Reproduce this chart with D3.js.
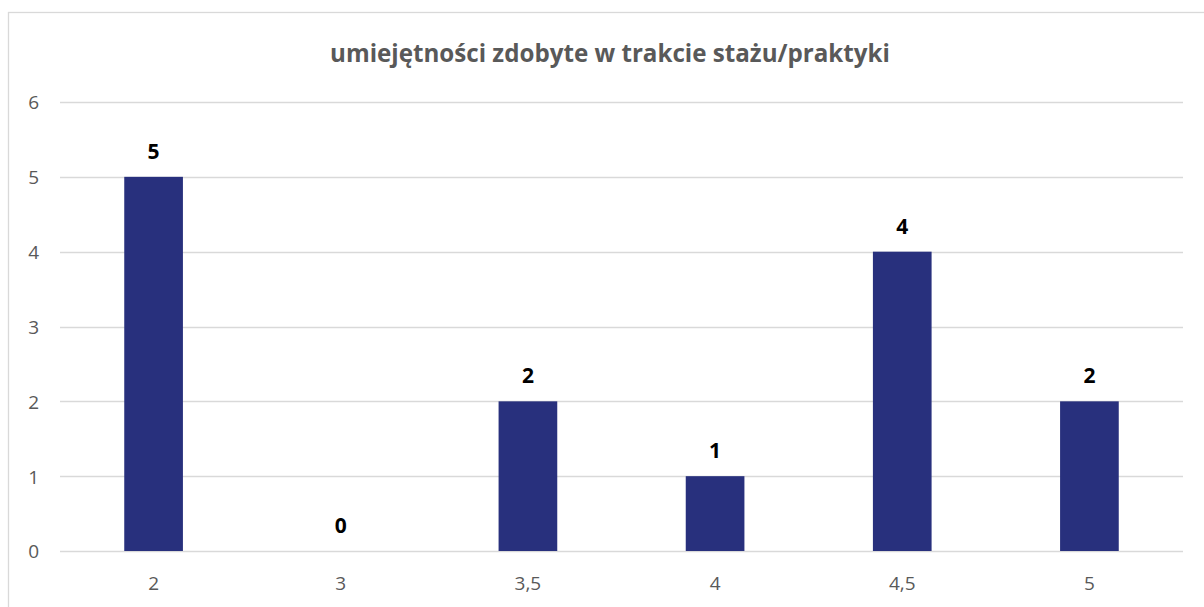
<!DOCTYPE html>
<html>
<head>
<meta charset="utf-8">
<script src="https://cdn.jsdelivr.net/npm/d3@7"></script>
<style>
  html, body { margin: 0; padding: 0; background: #ffffff; }
  svg { display: block; }
</style>
</head>
<body>
<svg id="chart" width="1204" height="607"></svg>
<script>
const title = "umiejętności zdobyte w trakcie stażu/praktyki";
const categories = ["2", "3", "3,5", "4", "4,5", "5"];
const values = [5, 0, 2, 1, 4, 2];
const yTicks = [0, 1, 2, 3, 4, 5, 6];

const W = 1204, H = 607;
const margin = { left: 60, right: 21, top: 102, bottom: 56 };
const svg = d3.select("#chart");

// chart border (Excel chart area)
svg.append("rect")
  .attr("x", 8.5).attr("y", 12.5)
  .attr("width", W + 10).attr("height", H + 10)
  .attr("fill", "#ffffff")
  .attr("stroke", "#d9d9d9").attr("stroke-width", 1.3);

const x = d3.scaleBand()
  .domain(categories)
  .range([margin.left, W - margin.right])
  .paddingInner(0.6865)
  .paddingOuter(0.6865 / 2);

const y = d3.scaleLinear()
  .domain([0, 6])
  .range([H - margin.bottom, margin.top]);

// gridlines
svg.append("g")
  .selectAll("line")
  .data(yTicks)
  .join("line")
  .attr("x1", margin.left).attr("x2", W - margin.right)
  .attr("y1", d => Math.round(y(d)) + 0.5)
  .attr("y2", d => Math.round(y(d)) + 0.5)
  .attr("stroke", "#d9d9d9").attr("stroke-width", 1.3);

// y axis labels
const yAxis = d3.axisLeft(y).tickValues(yTicks).tickFormat(d3.format("d")).tickSize(0).tickPadding(0);
const gy = svg.append("g").attr("transform", `translate(39,0)`).call(yAxis);
gy.select(".domain").remove();
gy.selectAll("text")
  .attr("font-family", "'Open Sans', sans-serif")
  .attr("font-size", 19)
  .attr("fill", "#595959")
  .attr("dy", "0.36em");

// x axis labels
const xAxis = d3.axisBottom(x).tickSize(0).tickPadding(0);
const gx = svg.append("g").attr("transform", `translate(0,${H - margin.bottom})`).call(xAxis);
gx.select(".domain").remove();
gx.selectAll("text")
  .attr("font-family", "'Open Sans', sans-serif")
  .attr("font-size", 19)
  .attr("fill", "#595959")
  .attr("y", 39)
  .attr("dy", 0);

// bars
svg.append("g")
  .selectAll("rect")
  .data(values)
  .join("rect")
  .attr("x", (d, i) => x(categories[i]))
  .attr("width", x.bandwidth())
  .attr("y", d => y(d))
  .attr("height", d => y(0) - y(d))
  .attr("fill", "#28307d");

// data labels
svg.append("g")
  .selectAll("text")
  .data(values)
  .join("text")
  .attr("x", (d, i) => x(categories[i]) + x.bandwidth() / 2)
  .attr("y", d => y(d) - 18)
  .attr("text-anchor", "middle")
  .attr("font-family", "'Open Sans', sans-serif")
  .attr("font-weight", "bold")
  .attr("font-size", 21)
  .attr("fill", "#000000")
  .text(d => d);

// title
const t = svg.append("text")
  .attr("x", 610)
  .attr("y", 62)
  .attr("text-anchor", "middle")
  .attr("font-family", "'Open Sans', sans-serif")
  .attr("font-weight", "bold")
  .attr("font-size", 22)
  .attr("fill", "#595959")
  .text(title);
const tw = t.node().getComputedTextLength();
t.attr("font-size", 22 * 560 / tw);
</script>
</body>
</html>
